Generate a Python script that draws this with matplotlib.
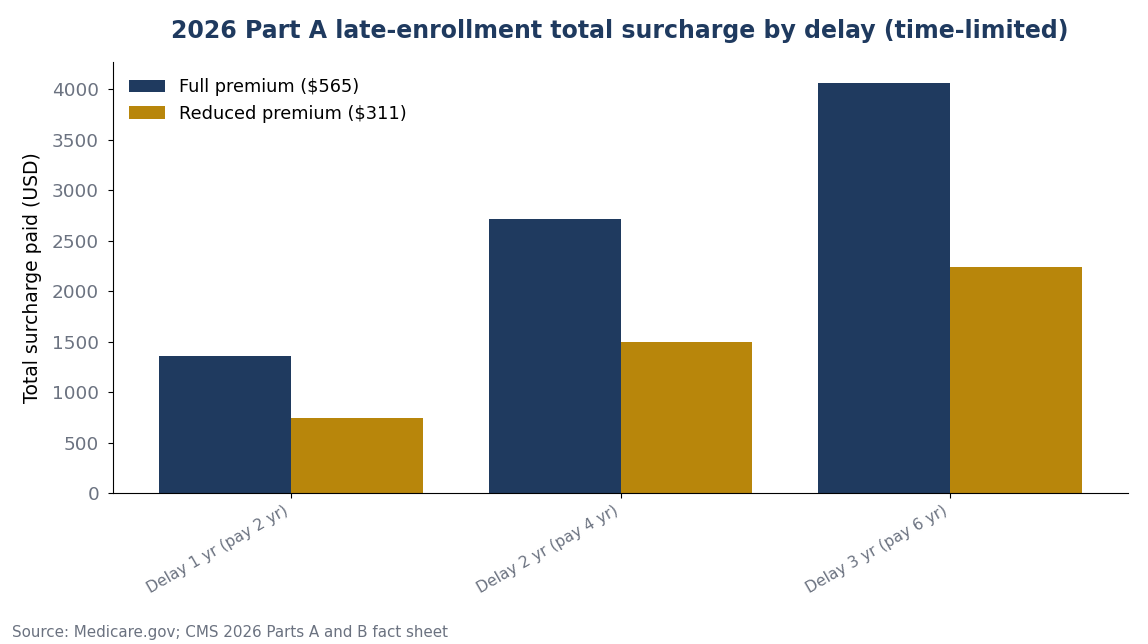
import matplotlib
matplotlib.use("Agg")
import matplotlib.pyplot as plt
import numpy as np

plt.rcParams['font.family'] = ['DejaVu Sans']

categories = ["Delay 1 yr (pay 2 yr)", "Delay 2 yr (pay 4 yr)", "Delay 3 yr (pay 6 yr)"]
full_premium = [1356, 2712, 4068]
reduced_premium = [746.4, 1492.8, 2239.2]
series_labels = ["Full premium ($565)", "Reduced premium ($311)"]

navy = "#1f3a5f"
gold = "#b8860b"
gray = "#6b7280"

fig = plt.figure(figsize=(11.48, 6.44), dpi=100)
ax = fig.add_axes([113/1148, 1-493/644, (1128-113)/1148, (493-62)/644])

x = np.arange(len(categories))
w = 0.4
ax.bar(x - w/2, full_premium, w, color=navy, label=series_labels[0])
ax.bar(x + w/2, reduced_premium, w, color=gold, label=series_labels[1])

ax.set_xticks(x)
ax.set_xticklabels(categories, rotation=30, ha="right", fontsize=11.2, color=gray)
ax.tick_params(axis="y", labelsize=13.3, labelcolor=gray, pad=6.5)
ax.set_ylabel("Total surcharge paid (USD)", fontsize=13.5, color="black", labelpad=7)
for s in ["top", "right"]:
    ax.spines[s].set_visible(False)
ax.legend(loc="upper left", frameon=False, fontsize=12.8)

fig.text(620/1148, 1-31/644, "2026 Part A late-enrollment total surcharge by delay (time-limited)",
         ha="center", va="center", fontsize=17, fontweight="bold", color=navy)
fig.text(12/1148, 1-633/644, "Source: Medicare.gov; CMS 2026 Parts A and B fact sheet",
         ha="left", va="center", fontsize=10.9, color=gray)

fig.savefig("out.png", dpi=100)
